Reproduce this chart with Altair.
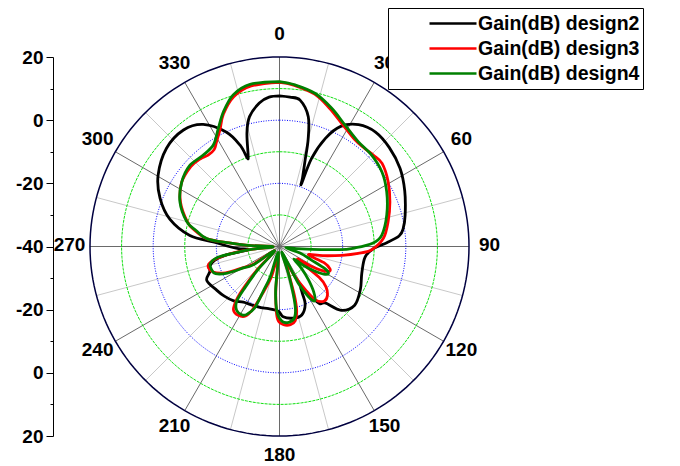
import altair as alt
import pandas as pd
import numpy as np

# Radiation patterns: angle (deg, clockwise from top) and gain (dB)
d2_angle = [0, 4, 8, 12.5, 15, 16.5, 18.5, 19.3, 20, 23, 27, 33, 40, 48, 57, 66, 76, 82, 85, 88,
            91, 97, 108, 118, 128, 136, 141, 145, 149, 152, 154, 156, 162, 169, 177, 181, 190,
            197, 205, 213, 220, 228, 235, 245, 250, 254, 258, 261, 264, 267, 270, 274, 277,
            284, 292, 300.5, 311, 320.5, 328, 335, 338.7, 340, 341, 344, 347, 352, 356, 360]
d2_gain = [7.7, 7.4, 6.8, 2.1, -5, -11.4, -17, -19, -10.3, -2.8, 2.7, 6.0, 7.3, 6.8, 5.5, 3.4,
           1.0, -0.5, -2, -6, -10, -12.7, -12.6, -11, -9.8, -11.9, -17, -18, -22.5, -25.5,
           -23.5, -20, -17.2, -16.9, -17.7, -19.5, -20, -19.8, -19.5, -19, -17.5, -16.5, -15.8,
           -14.6, -16.5, -17, -19, -23, -30, -27, -24, -19, -11.4, -4.2, 0.8, 4.6, 7.4, 7.8,
           5.6, 0.0, -5.5, -10.1, -9.5, -2.6, 2.2, 5.9, 7.4, 7.7]

d3_angle = [0, 5, 13, 20, 27, 35, 41, 46, 51, 59, 68, 77, 85.5, 92, 95, 98, 102, 106, 110, 114,
            117, 120, 122, 125, 128, 131, 136, 141, 146, 149, 153, 157, 161, 163, 165, 168, 172,
            177, 181, 183, 185, 188, 195, 200, 203, 206, 211, 216, 219, 221, 224, 229, 236, 240,
            244, 249, 255, 259, 262, 264, 268, 272, 274, 276, 281, 285, 294, 303, 312, 318, 322,
            326, 329, 333, 337, 343, 350, 360]
d3_gain = [12.0, 11.3, 9.5, 6.5, 3.6, 1.4, 1.1, 1.5, 1.8, 0.1, -2.3, -4.7, -7.0, -10.8, -15, -20,
           -26, -30.5, -25, -22.5, -22.6, -25, -28, -33, -24, -20.5, -18.2, -17.7, -19.6, -24,
           -29.5, -36, -32, -24, -19, -16, -15, -15.2, -16.5, -20, -27, -37, -30, -24, -18.5,
           -15.5, -14.6, -15.2, -18.5, -23, -30, -38, -30, -26.5, -21, -17.5, -16.6, -19.5, -25,
           -30, -38, -30, -24, -17, -12.5, -9.8, -5.7, -3.0, -2.2, -2.6, -3.3, -3.0, -1.3, 1.5,
           5.5, 9.6, 11.6, 12.0]

d4_angle = [0, 5.5, 13, 20.7, 28.3, 36.9, 45, 54, 63, 73.6, 83.6, 88, 91, 93, 96, 100, 108, 113,
            116, 119, 122, 125, 128, 131, 135, 139, 143, 147, 150, 153, 157, 162, 165, 168, 173,
            178, 182, 185, 190, 197, 200, 202, 206, 209, 214, 218, 220, 223, 229, 235, 239, 243,
            247, 251, 256, 260, 262, 264, 268, 272, 274, 276, 281, 285, 294, 303.5, 312, 320, 327,
            332.6, 337.4, 343, 349.7, 360]
d4_gain = [12.2, 11.4, 9.8, 6.8, 3.7, 1.5, 1.1, 0.1, -1.9, -4.6, -7.4, -10.5, -16, -21, -33, -38,
           -33, -29, -24, -22.3, -23.5, -26.5, -30, -34, -30, -26, -22, -19.5, -21.5, -27, -38,
           -30, -21, -17, -15.8, -16.3, -19, -26, -38, -30, -25, -19, -16, -15.3, -15.7, -18, -23,
           -30, -38, -30, -27, -21.5, -18, -17.3, -17.4, -20, -26, -31, -38, -30, -24, -17, -13,
           -9.6, -5.5, -2.9, -1.7, -2.3, -1.6, 2.1, 6.2, 10.2, 12.2, 12.2]

series_names = ["Gain(dB) design2", "Gain(dB) design3", "Gain(dB) design4"]
series_colors = ["#000000", "#ff0000", "#008000"]

# Polar grid: rings in dB, spokes every 15 degrees, labels every 30 degrees
ring_levels = [-30, -20, -10, 0, 10]
ring_kinds = ["green", "blue", "green", "blue", "green"]
outer_level = 20
spoke_angles = list(range(0, 360, 15))
label_angles = list(range(0, 360, 30))
r_min, r_max = -40, 20

rows = []
for name, angs, gains in zip(series_names, [d2_angle, d3_angle, d4_angle],
                             [d2_gain, d3_gain, d4_gain]):
    for i, (a, g) in enumerate(zip(angs, gains)):
        rows.append({"series": name, "angle": a, "gain": g, "order": i})
curves = pd.DataFrame(rows)

ring_rows = []
steps = np.arange(0, 361, 2)
for lvl, kind in zip(ring_levels + [outer_level], ring_kinds + ["outer"]):
    for a in steps:
        ring_rows.append({"level": lvl, "kind": kind, "angle": float(a)})
rings = pd.DataFrame(ring_rows)

spokes = pd.DataFrame({"angle": spoke_angles,
                       "major": [a % 30 == 0 for a in spoke_angles]})
labels = pd.DataFrame({"angle": label_angles, "text": [str(a) for a in label_angles]})

span = r_max - r_min
sc = alt.Scale(domain=[-span, span], nice=False, zero=False)
yaxis = alt.Axis(
    values=list(range(-span, span + 1, 10)),
    labelExpr="datum.value % 20 == 0 ? abs(datum.value) - 40 : ''",
    offset=37, orient="left", title=None, grid=False,
    tickSize={"condition": {"test": "datum.value % 20 == 0", "value": 7}, "value": 3},
    tickColor="black", domainColor="black", tickWidth=1, domainWidth=1,
    labelFont="Liberation Sans", labelFontSize=19, labelFontWeight="bold",
    labelColor="black", labelPadding=3, labelOverlap=False, labelFlush=False,
    labelBound=False,
)

polar_x = f"(datum.gain - ({r_min})) * sin(datum.angle * PI / 180)"
polar_y = f"(datum.gain - ({r_min})) * cos(datum.angle * PI / 180)"


def X(f):
    return alt.X(f, type="quantitative", scale=sc, axis=None)


def Y(f):
    return alt.Y(f, type="quantitative", scale=sc, axis=yaxis)


ring_base = alt.Chart(rings).transform_calculate(
    gain="datum.level"
).transform_calculate(x=polar_x, y=polar_y)

green_rings = ring_base.transform_filter("datum.kind == 'green'").mark_line(
    color="#11e011", strokeWidth=1, strokeDash=[3, 1]
).encode(x=X("x"), y=Y("y"), detail="level:N", order="angle:Q")

blue_rings = ring_base.transform_filter("datum.kind == 'blue'").mark_line(
    color="#0000ff", strokeWidth=1, strokeDash=[1, 1.5]
).encode(x=X("x"), y=Y("y"), detail="level:N", order="angle:Q")

outer_ring = ring_base.transform_filter("datum.kind == 'outer'").mark_line(
    color="#000040", strokeWidth=1.5
).encode(x=X("x"), y=Y("y"), detail="level:N", order="angle:Q")

spoke_base = alt.Chart(spokes).transform_calculate(
    x0="0", y0="0",
    x1=f"{span} * sin(datum.angle * PI / 180)",
    y1=f"{span} * cos(datum.angle * PI / 180)",
)
minor_spokes = spoke_base.transform_filter("!datum.major").mark_rule(
    color="#c8c8c8", strokeWidth=1
).encode(x=X("x0"), y=Y("y0"), x2="x1:Q", y2="y1:Q")
major_spokes = spoke_base.transform_filter("datum.major").mark_rule(
    color="#6a6a6a", strokeWidth=1
).encode(x=X("x0"), y=Y("y0"), x2="x1:Q", y2="y1:Q")

angle_text = alt.Chart(labels).transform_calculate(
    x="66.5 * sin(datum.angle * PI / 180)",
    y="66.5 * cos(datum.angle * PI / 180)",
).mark_text(
    font="Liberation Sans", fontSize=19, fontWeight="bold", color="black",
    align="center", baseline="middle", dy=-2
).encode(x=X("x"), y=Y("y"), text="text:N")

lines = alt.Chart(curves).transform_calculate(
    x=polar_x, y=polar_y
).mark_line(strokeWidth=2.8, interpolate="cardinal").encode(
    x=X("x"), y=Y("y"), order="order:Q",
    color=alt.Color(
        "series:N",
        scale=alt.Scale(domain=series_names, range=series_colors),
        legend=alt.Legend(
            orient="none", legendX=298, legendY=-49, title=None,
            symbolType="stroke", symbolSize=2209, symbolStrokeWidth=2.5,
            clipHeight=25, rowPadding=0, padding=3,
            strokeColor="black", fillColor="white",
            symbolOffset=37, labelOffset=0,
            labelFont="Liberation Sans", labelFontSize=19.5, labelFontWeight="bold",
            labelColor="black", labelLimit=400,
        ),
    ),
)

chart = alt.layer(
    minor_spokes, major_spokes, green_rings, blue_rings, outer_ring, lines, angle_text
).properties(
    width=379, height=379,
    padding={"left": 90, "top": 57, "right": 211, "bottom": 30},
    autosize=alt.AutoSizeParams(type="none"),
    background="white",
).configure_view(strokeWidth=0)

chart.save("out.html", embed_options={"renderer": "svg", "actions": False})
